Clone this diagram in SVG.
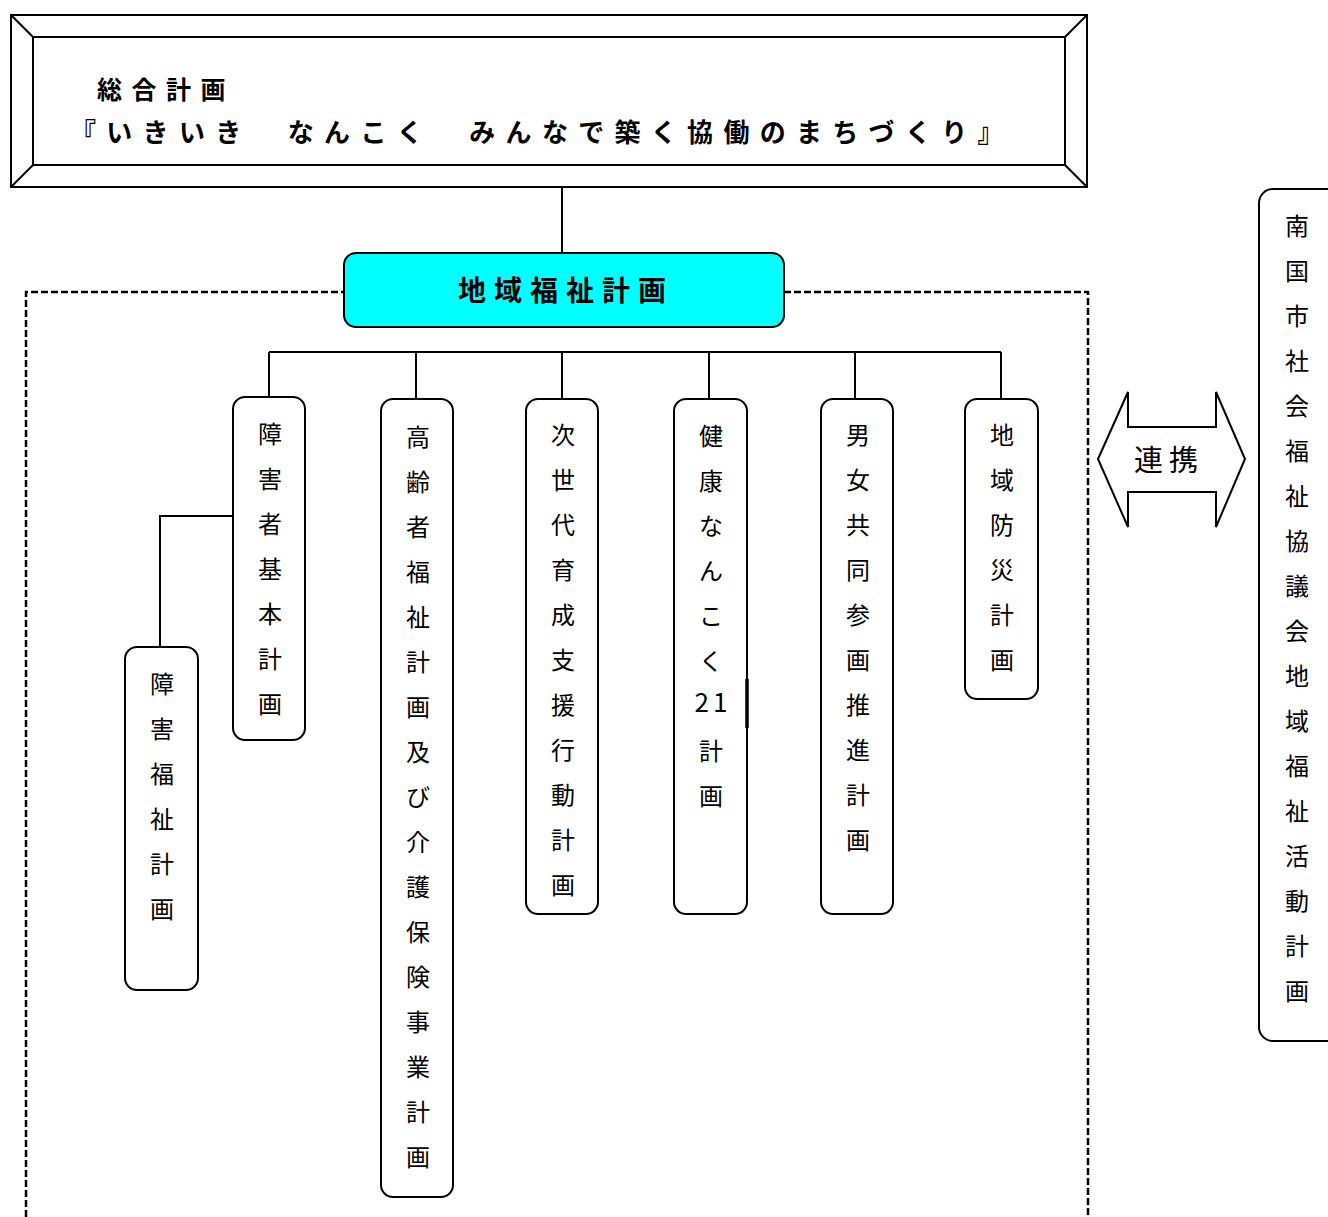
<svg xmlns="http://www.w3.org/2000/svg" width="1328" height="1217" viewBox="0 0 1328 1217">
<style>
.ln{stroke:#000;stroke-width:2;fill:none}
.box{stroke:#000;stroke-width:2;fill:#fff}
.dash{stroke:#000;stroke-width:2.5;fill:none;stroke-dasharray:7 3}
.vt{font-family:"Noto Sans CJK JP","Noto Sans CJK SC",sans-serif;font-size:24px;fill:#000;text-anchor:middle}
.bt{font-family:"Noto Sans CJK JP","Noto Sans CJK SC",sans-serif;font-weight:700;fill:#000}
</style>
<rect width="1328" height="1217" fill="#fff"/>
<g id="connectors">
<path class="dash" d="M26,1217 V292 H344 M784,292 H1088 V1217"/>
<path class="ln" d="M562,187 V253"/>
<path class="ln" d="M269,352 H1001 M269,352 V397 M416,352 V399 M562,352 V399 M709,352 V399 M855,352 V399 M1001,352 V399"/>
<path class="ln" d="M233,516 H160 V647"/>
</g>
<g id="top">
<rect x="11" y="15" width="1076" height="172" class="ln"/>
<rect x="33" y="37" width="1032" height="128" class="ln"/>
<path class="ln" d="M11,15 L33,37 M1087,15 L1065,37 M11,187 L33,165 M1087,187 L1065,165"/>
<text class="bt" x="97" y="99" font-size="25" letter-spacing="9.5">総合計画</text>
<text class="bt" x="70" y="142" font-size="26" letter-spacing="10.3">『いきいき　なんこく　みんなで築く協働のまちづくり』</text>
</g>
<g id="main">
<rect x="344" y="253" width="440" height="74" rx="12" fill="#00ffff" stroke="#000" stroke-width="2"/>
<text class="bt" x="566" y="301" font-size="28" letter-spacing="8" text-anchor="middle">地域福祉計画</text>
</g>
<g id="n1">
<rect class="box" x="233" y="397" width="72" height="343" rx="12"/>
<text class="vt"><tspan x="270" y="443">障</tspan><tspan x="270" y="488">害</tspan><tspan x="270" y="533">者</tspan><tspan x="270" y="578">基</tspan><tspan x="270" y="623">本</tspan><tspan x="270" y="668">計</tspan><tspan x="270" y="713">画</tspan></text>
</g>
<g id="n2">
<rect class="box" x="381" y="399" width="72" height="798" rx="12"/>
<text class="vt"><tspan x="418" y="446">高</tspan><tspan x="418" y="491">齢</tspan><tspan x="418" y="536">者</tspan><tspan x="418" y="581">福</tspan><tspan x="418" y="626">祉</tspan><tspan x="418" y="671">計</tspan><tspan x="418" y="716">画</tspan><tspan x="418" y="761">及</tspan><tspan x="418" y="806">び</tspan><tspan x="418" y="851">介</tspan><tspan x="418" y="896">護</tspan><tspan x="418" y="941">保</tspan><tspan x="418" y="986">険</tspan><tspan x="418" y="1031">事</tspan><tspan x="418" y="1076">業</tspan><tspan x="418" y="1121">計</tspan><tspan x="418" y="1166">画</tspan></text>
</g>
<g id="n3">
<rect class="box" x="526" y="399" width="72" height="515" rx="12"/>
<text class="vt"><tspan x="563" y="444">次</tspan><tspan x="563" y="489">世</tspan><tspan x="563" y="534">代</tspan><tspan x="563" y="579">育</tspan><tspan x="563" y="624">成</tspan><tspan x="563" y="669">支</tspan><tspan x="563" y="714">援</tspan><tspan x="563" y="759">行</tspan><tspan x="563" y="804">動</tspan><tspan x="563" y="849">計</tspan><tspan x="563" y="894">画</tspan></text>
</g>
<g id="n4">
<rect class="box" x="674" y="399" width="73" height="515" rx="12"/>
<path d="M747,679 V728" stroke="#000" stroke-width="3.5"/>
<text class="vt"><tspan x="711" y="445">健</tspan><tspan x="711" y="490">康</tspan><tspan x="711" y="535">な</tspan><tspan x="711" y="580">ん</tspan><tspan x="711" y="625">こ</tspan><tspan x="711" y="670">く</tspan><tspan x="713" y="712" letter-spacing="4" font-size="26">21</tspan><tspan x="711" y="760">計</tspan><tspan x="711" y="805">画</tspan></text>
</g>
<g id="n5">
<rect class="box" x="821" y="399" width="72" height="515" rx="12"/>
<text class="vt"><tspan x="858" y="444">男</tspan><tspan x="858" y="489">女</tspan><tspan x="858" y="534">共</tspan><tspan x="858" y="579">同</tspan><tspan x="858" y="624">参</tspan><tspan x="858" y="669">画</tspan><tspan x="858" y="714">推</tspan><tspan x="858" y="759">進</tspan><tspan x="858" y="804">計</tspan><tspan x="858" y="849">画</tspan></text>
</g>
<g id="n6">
<rect class="box" x="965" y="399" width="73" height="300" rx="12"/>
<text class="vt"><tspan x="1002" y="444">地</tspan><tspan x="1002" y="489">域</tspan><tspan x="1002" y="534">防</tspan><tspan x="1002" y="579">災</tspan><tspan x="1002" y="624">計</tspan><tspan x="1002" y="669">画</tspan></text>
</g>
<g id="n7">
<rect class="box" x="125" y="647" width="73" height="343" rx="12"/>
<text class="vt"><tspan x="162" y="693">障</tspan><tspan x="162" y="738">害</tspan><tspan x="162" y="783">福</tspan><tspan x="162" y="828">祉</tspan><tspan x="162" y="873">計</tspan><tspan x="162" y="918">画</tspan></text>
</g>
<g id="link">
<path class="box" d="M1098,459 L1128,392 V427 H1216 V392 L1245,459 L1216,527 V492 H1128 V527 Z"/>
<text x="1169" y="471" font-family="Noto Sans CJK JP,Noto Sans CJK SC,sans-serif" font-size="29" letter-spacing="6" text-anchor="middle">連携</text>
</g>
<g id="council">
<rect class="box" x="1259" y="189" width="100" height="852" rx="14"/>
<text class="vt"><tspan x="1297" y="235">南</tspan><tspan x="1297" y="280">国</tspan><tspan x="1297" y="325">市</tspan><tspan x="1297" y="370">社</tspan><tspan x="1297" y="415">会</tspan><tspan x="1297" y="460">福</tspan><tspan x="1297" y="505">祉</tspan><tspan x="1297" y="550">協</tspan><tspan x="1297" y="595">議</tspan><tspan x="1297" y="640">会</tspan><tspan x="1297" y="685">地</tspan><tspan x="1297" y="730">域</tspan><tspan x="1297" y="775">福</tspan><tspan x="1297" y="820">祉</tspan><tspan x="1297" y="865">活</tspan><tspan x="1297" y="910">動</tspan><tspan x="1297" y="955">計</tspan><tspan x="1297" y="1000">画</tspan></text>
</g>
</svg>
